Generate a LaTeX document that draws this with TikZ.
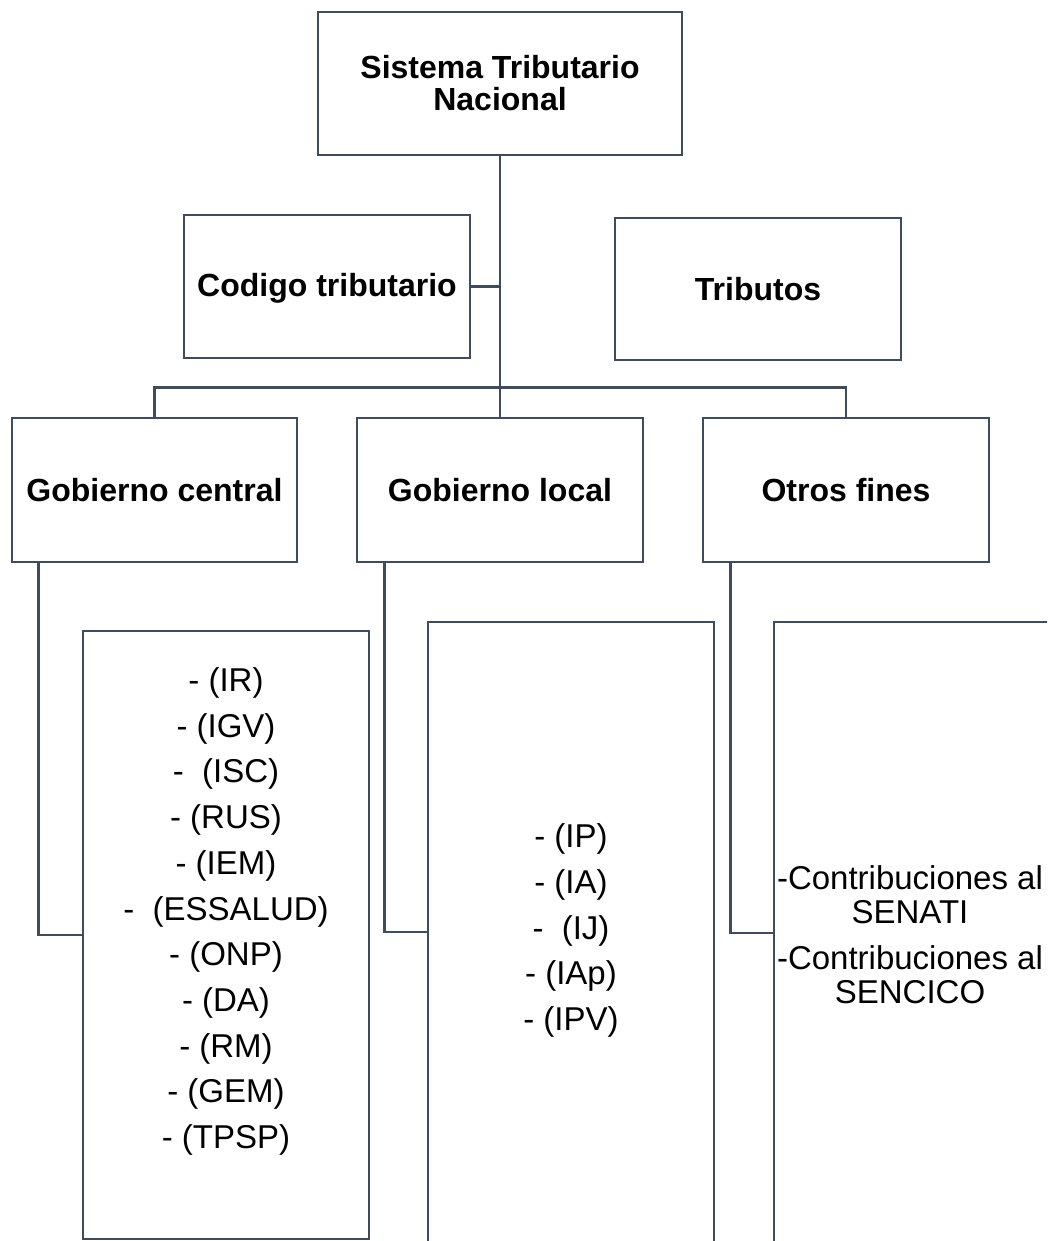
\documentclass[tikz,border=0pt]{standalone}
\usepackage{fontspec}
\setmainfont{Liberation Sans}
\definecolor{linecol}{HTML}{3E4C5E}
\begin{document}
\begin{tikzpicture}[x=1pt,y=-1pt,
  box/.style={draw=linecol,line width=2.6pt,fill=white,rectangle,inner sep=0pt},
  bt/.style={font=\fontsize{32}{32}\selectfont\bfseries,align=center,text=black},
  lt/.style={font=\fontsize{33}{45.7}\selectfont,align=center,text=black,inner sep=0pt},
  conn/.style={draw=linecol,line width=2.6pt}]
\useasboundingbox (0,0) rectangle (1047,1241);
\clip (0,0) rectangle (1047,1241);
\node[box,minimum width=364pt,minimum height=143pt] (top) at (500,83.5) {};
\node[box,minimum width=286pt,minimum height=143pt] (codigo) at (327,286.5) {};
\node[box,minimum width=286pt,minimum height=142pt] (trib) at (758,289) {};
\node[box,minimum width=285pt,minimum height=144pt] (gc) at (154.5,490) {};
\node[box,minimum width=286pt,minimum height=144pt] (gl) at (500,490) {};
\node[box,minimum width=286pt,minimum height=144pt] (of) at (846,490) {};
\node[box,minimum width=286pt,minimum height=608pt] (b1) at (226,935) {};
\node[box,minimum width=286pt,minimum height=638pt] (b2) at (571,941) {};
\node[box,minimum width=296pt,minimum height=638pt] (b3) at (922,941) {};

\draw[conn] (top.south) -- (gl.north);
\draw[conn] (codigo.east) -- (codigo.east -| top.south);
\draw[conn] (gc.north) -- ++(0,-29) coordinate (bl) -| (of.north);
\draw[conn] ([xshift=28pt]gc.south west) |- (b1.west);
\draw[conn] ([xshift=29pt]gl.south west) |- ([yshift=9pt]b2.west);
\draw[conn] ([xshift=29pt]of.south west) |- ([yshift=8pt]b3.west);

\node[bt] (ttop) at (top) {Sistema Tributario\\Nacional};
\node[bt] (tcod) at ([yshift=-2pt]codigo.center) {Codigo tributario};
\node[bt] (ttrib) at (trib) {Tributos};
\node[bt] (tgc) at (gc) {Gobierno central};
\node[bt] (tgl) at (gl) {Gobierno local};
\node[bt] (tof) at (of) {Otros fines};
\node[lt] (t1) at (226,911.5) {- (IR)\\- (IGV)\\-~~(ISC)\\- (RUS)\\- (IEM)\\-~~(ESSALUD)\\- (ONP)\\- (DA)\\- (RM)\\- (GEM)\\- (TPSP)};
\node[lt] (t2) at (571,930.5) {- (IP)\\- (IA)\\-~~(IJ)\\- (IAp)\\- (IPV)};
\node[lt,font=\fontsize{33}{34}\selectfont] (t3) at (910,935) {-Contribuciones al\\SENATI\\[12pt]-Contribuciones al\\SENCICO};
\end{tikzpicture}
\end{document}
